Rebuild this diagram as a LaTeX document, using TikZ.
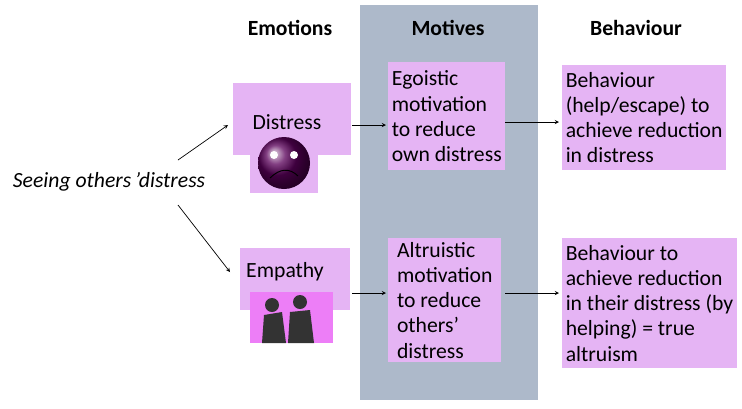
\documentclass[tikz,border=0pt]{standalone}
\usepackage{fontspec}
\setmainfont{Carlito}
\usepackage{tikz}
\usetikzlibrary{positioning}
\definecolor{boxpink}{HTML}{E5B4F4}
\definecolor{colgray}{HTML}{ADB9CA}
\begin{document}
\begin{tikzpicture}[
  x=0.03cm, y=-0.03cm,
  every node/.style={font=\fontsize{18.5}{21.5}\selectfont},
  head/.style={font=\fontsize{18.5}{21.5}\selectfont\bfseries},
  box/.style={fill=boxpink, align=left, inner sep=3pt, anchor=north west},
  arr/.style={-stealth, semithick}
]
\useasboundingbox (0,0) rectangle (742,408);
\fill[colgray] (360,5) rectangle (538,400);
\node[head] (hemo) at (290,28) {Emotions};
\node[head] (hmot) at (448,28) {Motives};
\node[head] (hbeh) at (636,28) {Behaviour};
\node[font=\fontsize{18.5}{21.5}\selectfont\itshape] (see) at (109,182) {Seeing others\,’distress};
% emotions
\fill[boxpink] (233,83) rectangle (351,155);
\node (dis) at (287,122) {Distress};
\fill[boxpink] (250,135) rectangle (318,193);
\shade[ball color=violet!70!black] (284,163) circle (26);
\draw[thick] (270,178) .. controls (280,168) and (290,168) .. (298,176);
\fill[white] (274,155) circle (4) (294,155) circle (4);
\fill[boxpink] (240,248) rectangle (350,310);
\node (emp) at (285,272) {Empathy};
\fill[boxpink!70!magenta] (250,292) rectangle (333,343);
\fill[black!80] (272,305) circle (7) (300,302) circle (7);
\fill[black!80] (262,343) -- (264,315) -- (282,312) -- (286,343) -- cycle;
\fill[black!80] (288,343) -- (290,312) -- (310,310) -- (314,343) -- cycle;
% motives
\node[box, minimum width=113*0.03cm, minimum height=108*0.03cm] (ego) at (388,62) {Egoistic\\motivation\\to reduce\\own distress};
\node[box, minimum width=113*0.03cm, minimum height=124*0.03cm] (alt) at (388,238) {Altruistic\\motivation\\to reduce\\others’\\distress};
% behaviour
\node[box, minimum width=163*0.03cm, minimum height=105*0.03cm] (beh1) at (562,65) {Behaviour\\(help/escape) to\\achieve reduction\\in distress};
\node[box, minimum width=170*0.03cm, minimum height=130*0.03cm] (beh2) at (562,238) {Behaviour to\\achieve reduction\\in their distress (by\\helping) = true\\altruism};
% arrows
\coordinate (s1) at (178,160); \coordinate (e1) at (228,125);
\coordinate (s2) at (178,205); \coordinate (e2) at (230,272);
\coordinate (d1) at (352,125); \coordinate (m1) at (386,125);
\coordinate (d2) at (352,293); \coordinate (m2) at (386,293);
\coordinate (o1) at (505,122); \coordinate (b1) at (559,122);
\coordinate (o2) at (505,293); \coordinate (b2) at (559,293);
\draw[arr] (s1) -- (e1);
\draw[arr] (s2) -- (e2);
\draw[arr] (d1) -- (m1);
\draw[arr] (d2) -- (m2);
\draw[arr] (o1) -- (b1);
\draw[arr] (o2) -- (b2);
\end{tikzpicture}
\end{document}
